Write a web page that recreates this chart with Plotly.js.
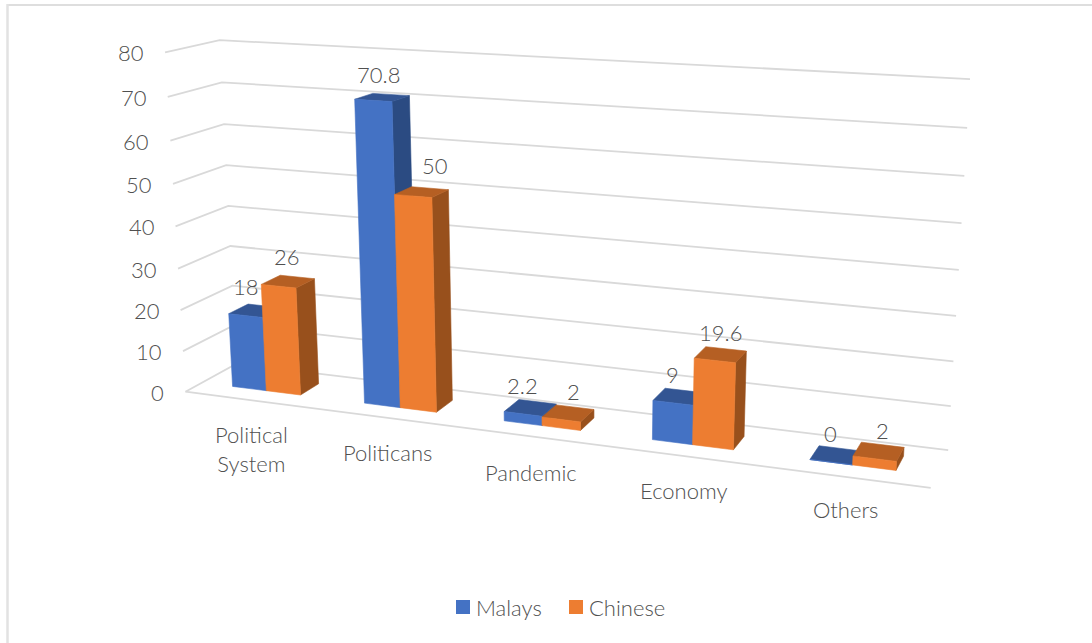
<!DOCTYPE html>
<html><head><meta charset="utf-8"><script src="https://cdn.plot.ly/plotly-3.0.1.min.js"></script>
<style>html,body{margin:0;padding:0;background:#fff}#chart{width:1092px;height:643px}</style></head><body><div id="chart"></div>
<script>
// Survey results by category and group
const categories = ['Political<br>System', 'Politicans', 'Pandemic', 'Economy', 'Others'];
const malays = [18, 70.8, 2.2, 9, 0];
const chinese = [26, 50, 2, 19.6, 2];
const valueTicks = [0, 10, 20, 30, 40, 50, 60, 70, 80];
const seriesNames = ['Malays', 'Chinese'];

// Perspective camera for the 3-D column box: x runs 0..1 across the categories,
// y runs 0..1 from the front of the floor to the back wall, z is the value axis.
const camera = {eye: [1.5440, -3.9828, 1.0644], look: [-0.1891, 0.7574, -0.2858], up: [0.0137, -0.0410, 1],
                focal: 1753.83, cx: 581.1147, cy: 277.2349, boxX: 2, boxY: 0.2636, boxZ: 0.9159, zMax: 80};
// Column half-cluster width and depth span inside each category slot
const barWidth = 0.0522, barFront = 0.3158, barBack = 0.6991;

const colors = {
  Malays: {front: '#4472C4', top: '#335593', side: '#2B4B82'},
  Chinese: {front: '#ED7D31', top: '#B55F23', side: '#98501C'}
};
const gridColor = '#D9D9D9', textColor = '#505050', fontFamily = 'Lato, "Open Sans", sans-serif';
const textSize = 22, textWeight = 300;
const catLabelDx = [1, 1, 1, 1, 0], catLabelDy = [49, 35, 36, 35, 33];
// Pixel nudges of the data labels above their columns
const labelDx = [[-9, -4, -8, -7, -5], [-1, 13, 5, 0, 4]];
const labelDy = [[7, 5, 5, 5, 4], [8, 9, 4, 5, 4]];

const sub = (a, b) => a.map((v, i) => v - b[i]);
const dot = (a, b) => a.reduce((s, v, i) => s + v * b[i], 0);
const cross = (a, b) => [a[1]*b[2]-a[2]*b[1], a[2]*b[0]-a[0]*b[2], a[0]*b[1]-a[1]*b[0]];
const unit = a => { const l = Math.hypot(...a); return a.map(v => v / l); };
const fwd = unit(sub(camera.look, camera.eye));
const right = unit(cross(fwd, camera.up));
const upv = cross(right, fwd);
function project(x, y, z) {
  const w = [(x - .5) * camera.boxX, (y - .5) * camera.boxY, (z / camera.zMax - .5) * camera.boxZ];
  const d = sub(w, camera.eye), depth = dot(d, fwd);
  return [camera.cx + camera.focal * dot(d, right) / depth, camera.cy - camera.focal * dot(d, upv) / depth];
}
const slotCentre = k => (k + .5) / categories.length;

function polyTrace(polys, color, name) {
  const x = [], y = [];
  polys.forEach(pts => {
    pts.forEach(p => { const q = project(...p); x.push(q[0]); y.push(q[1]); });
    const q0 = project(...pts[0]); x.push(q0[0], null); y.push(q0[1], null);
  });
  return {type: 'scatter', mode: 'lines', x, y, fill: 'toself', fillcolor: color, name,
          line: {color, width: 0.6}, hoverinfo: 'skip', showlegend: false};
}
function lineTrace(pts) {
  const q = pts.map(p => project(...p));
  return {type: 'scatter', mode: 'lines', x: q.map(p => p[0]), y: q.map(p => p[1]),
          line: {color: gridColor, width: 1.8}, hoverinfo: 'skip', showlegend: false};
}

const traces = [];
valueTicks.forEach(t => traces.push(lineTrace([[0, 0, t], [0, 1, t], [1, 1, t]])));
traces.push(lineTrace([[0, 0, 0], [1, 0, 0]]));

[malays, chinese].forEach((values, s) => {
  const name = seriesNames[s], c = colors[name];
  const side = [], top = [], front = [];
  values.forEach((v, k) => {
    const x0 = slotCentre(k) + (s - 1) * barWidth, x1 = x0 + barWidth;
    const y0 = barFront, y1 = barBack;
    side.push([[x1, y0, 0], [x1, y1, 0], [x1, y1, v], [x1, y0, v]]);
    top.push([[x0, y0, v], [x1, y0, v], [x1, y1, v], [x0, y1, v]]);
    front.push([[x0, y0, 0], [x1, y0, 0], [x1, y0, v], [x0, y0, v]]);
  });
  traces.push(polyTrace(side, c.side, name), polyTrace(top, c.top, name), polyTrace(front, c.front, name));
});

const annotations = [];
const label = (x, y, text, opts) => annotations.push(Object.assign({xref: 'x', yref: 'y', x, y, text, showarrow: false,
  font: {family: fontFamily, size: textSize, weight: textWeight, color: textColor}}, opts));

valueTicks.forEach(t => {
  const p = project(0, 0, t);
  label(p[0], p[1], String(t), {xanchor: 'right', yanchor: 'middle', xshift: -19, yshift: -0.5});
});
categories.forEach((name, k) => {
  const p = project(slotCentre(k), 0, 0);
  label(p[0], p[1], name, {xanchor: 'center', yanchor: 'middle', xshift: catLabelDx[k], yshift: -catLabelDy[k]});
});
[malays, chinese].forEach((values, s) => values.forEach((v, k) => {
  const xc = slotCentre(k) + (s - 1) * barWidth + barWidth / 2;
  const p = project(xc, (barFront + barBack) / 2, v);
  label(p[0], p[1], String(v), {xanchor: 'center', yanchor: 'bottom', xshift: labelDx[s][k], yshift: 2 + labelDy[s][k]});
}));

// Legend swatches and names
const legendX = [456, 569], swatch = 14, legendY = 607;
const shapes = [
  {type: 'line', xref: 'x', yref: 'y', x0: 7, x1: 1092, y0: 5, y1: 5, line: {color: '#DEDEDE', width: 2}},
  {type: 'line', xref: 'x', yref: 'y', x0: 7.5, x1: 7.5, y0: 4, y1: 643, line: {color: '#E2E2E2', width: 2.5}}
];
seriesNames.forEach((name, s) => {
  shapes.push({type: 'rect', xref: 'x', yref: 'y', x0: legendX[s], x1: legendX[s] + swatch, y0: legendY - swatch / 2, y1: legendY + swatch / 2,
               fillcolor: colors[name].front, line: {width: 0}});
  label(legendX[s] + swatch + 4, legendY, name, {xanchor: 'left', yanchor: 'middle'});
});

const hiddenAxis = r => ({range: r, visible: false, fixedrange: true});
Plotly.newPlot('chart', traces, {
  width: 1092, height: 643, margin: {l: 0, r: 0, t: 0, b: 0}, showlegend: false,
  paper_bgcolor: '#fff', plot_bgcolor: '#fff',
  xaxis: hiddenAxis([0, 1092]), yaxis: hiddenAxis([643, 0]),
  annotations, shapes
}, {staticPlot: true, displayModeBar: false});
</script></body></html>
